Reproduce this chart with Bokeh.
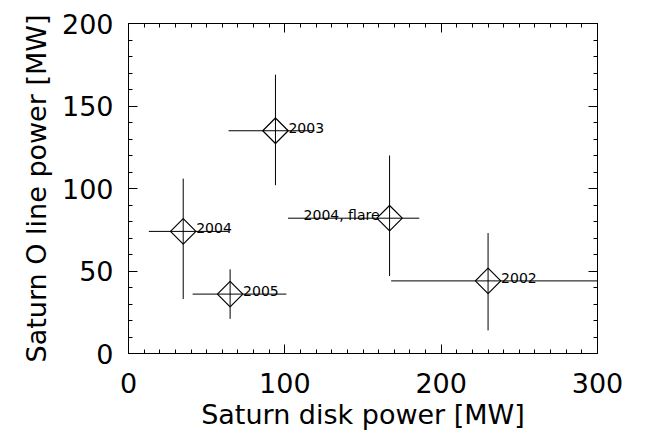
import numpy as np
from bokeh.plotting import figure
from bokeh.models import (Range1d, LinearAxis, SingleIntervalTicker, ColumnDataSource,
                          CustomJSTickFormatter)
from bokeh.core.properties import value
from bokeh.embed import file_html
from bokeh.resources import INLINE

# ---- data ----
labels = ["2004", "2005", "2003", "2004, flare", "2002"]
disk_power = [35, 65, 94, 167, 230]          # x, MW
disk_lo = [13, 41, 64, 102, 168]
disk_hi = [64, 101, 119, 186, 300]
line_power = [74, 36, 135, 82, 44]           # y, MW
line_lo = [33, 21, 102, 47, 14]
line_hi = [106, 51, 169, 120, 73]
x_title = "Saturn disk power [MW]"
y_title = "Saturn O line power [MW]"

FONT = "DejaVu Sans"

src = ColumnDataSource(dict(x=disk_power, y=line_power, xlo=disk_lo, xhi=disk_hi,
                            ylo=line_lo, yhi=line_hi, label=labels))
left_idx = [i for i, s in enumerate(labels) if "flare" in s]
right_idx = [i for i in range(len(labels)) if i not in left_idx]
src_r = ColumnDataSource(dict(x=[disk_power[i] for i in right_idx],
                              y=[line_power[i] for i in right_idx],
                              label=[labels[i] for i in right_idx]))
src_l = ColumnDataSource(dict(x=[disk_power[i] for i in left_idx],
                              y=[line_power[i] for i in left_idx],
                              label=[labels[i] for i in left_idx]))

W, H = 631, 440
ML, MR, MT, MB = 128, 34, 23, 87
p = figure(width=W, height=H, output_backend="svg", toolbar_location=None,
           x_range=Range1d(0, 300), y_range=Range1d(0, 200),
           min_border_left=ML, min_border_right=MR, min_border_top=MT,
           min_border_bottom=MB,
           x_axis_label=x_title, y_axis_label=y_title)
p.grid.visible = False
p.outline_line_color = "black"
p.background_fill_color = "white"
p.border_fill_color = "white"

bottom_ax = p.below[0]
left_ax = p.left[0]
top_ax = LinearAxis()
right_ax = LinearAxis()
p.add_layout(top_ax, "above")
p.add_layout(right_ax, "right")

for ax in (bottom_ax, top_ax):
    ax.ticker = SingleIntervalTicker(interval=100, num_minor_ticks=10)
for ax in (left_ax, right_ax):
    ax.ticker = SingleIntervalTicker(interval=50, num_minor_ticks=5)

for ax in (bottom_ax, top_ax, left_ax, right_ax):
    ax.axis_line_color = "black"
    ax.axis_line_width = 1
    ax.major_tick_line_color = "black"
    ax.minor_tick_line_color = "black"
    ax.major_tick_in = 9
    ax.major_tick_out = 0
    ax.minor_tick_in = 4
    ax.minor_tick_out = 0
    ax.major_label_text_font = FONT
    ax.major_label_text_font_size = "27px"
    ax.major_label_text_color = "black"
    ax.major_label_text_line_height = 1.0
    ax.axis_label_text_font = FONT
    ax.axis_label_text_font_size = "27px"
    ax.axis_label_text_font_style = "normal"
    ax.axis_label_text_color = "black"
    ax.axis_label_text_line_height = 1.0

for ax in (top_ax, right_ax):
    ax.formatter = CustomJSTickFormatter(code="return ''")
    ax.major_label_text_font_size = "8px"
    ax.major_label_standoff = 0
    ax.axis_label = None

bottom_ax.major_label_standoff = 19
bottom_ax.axis_label_standoff = 3
left_ax.major_label_standoff = 15
left_ax.axis_label_standoff = 7

# error bars
p.segment(x0="xlo", y0="y", x1="xhi", y1="y", source=src, line_color="black", line_width=1)
p.segment(x0="x", y0="ylo", x1="x", y1="yhi", source=src, line_color="black", line_width=1)

# diamond symbols
p.scatter(x="x", y="y", source=src, marker="square", angle=np.pi / 4, size=18,
          fill_color=None, line_color="black", line_width=1.2)

# labels
p.text(x="x", y="y", text="label", source=src_r, x_offset=13, y_offset=-3,
       text_align="left", text_baseline="alphabetic", text_font=value(FONT),
       text_font_size="14px", text_color="black")
p.text(x="x", y="y", text="label", source=src_l, x_offset=-10, y_offset=-3,
       text_align="right", text_baseline="alphabetic", text_font=value(FONT),
       text_font_size="14px", text_color="black")

open("out.html", "w").write(file_html(p, INLINE))
